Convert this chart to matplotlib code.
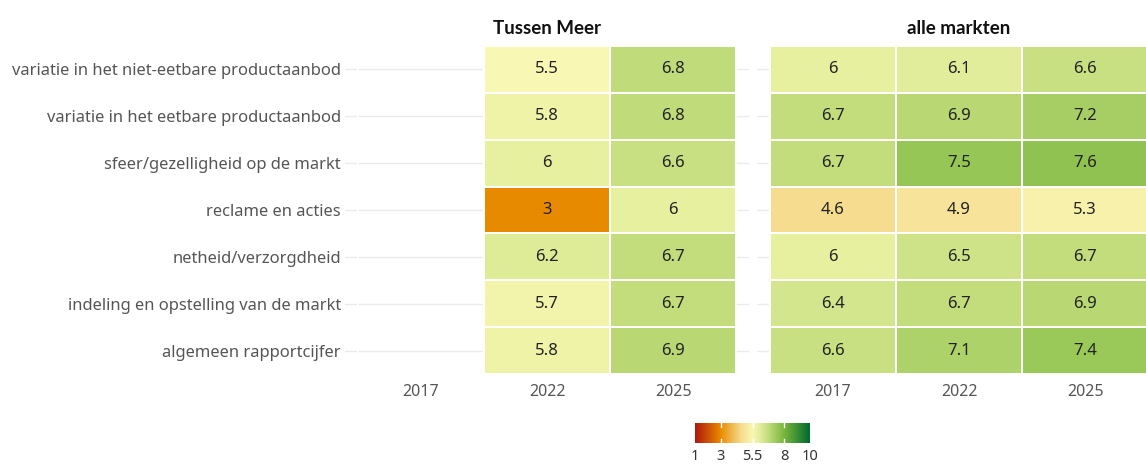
import numpy as np
import matplotlib
matplotlib.use("Agg")
import matplotlib.pyplot as plt
from matplotlib.colors import LinearSegmentedColormap, Normalize

plt.rcParams['font.family'] = ['Noto Sans', 'DejaVu Sans']

categories = ['variatie in het niet-eetbare productaanbod',
              'variatie in het eetbare productaanbod',
              'sfeer/gezelligheid op de markt',
              'reclame en acties',
              'netheid/verzorgdheid',
              'indeling en opstelling van de markt',
              'algemeen rapportcijfer']
years = ['2017', '2022', '2025']
panels = ['Tussen Meer', 'alle markten']

# values per year (rows in category order), nan = no data
tussen_2017 = [np.nan] * 7
tussen_2022 = [5.5, 5.8, 6, 3, 6.2, 5.7, 5.8]
tussen_2025 = [6.8, 6.8, 6.6, 6, 6.7, 6.7, 6.9]
alle_2017 = [6, 6.7, 6.7, 4.6, 6, 6.4, 6.6]
alle_2022 = [6.1, 6.9, 7.5, 4.9, 6.5, 6.7, 7.1]
alle_2025 = [6.6, 7.2, 7.6, 5.3, 6.7, 6.9, 7.4]

data = {
    'Tussen Meer': np.array([tussen_2017, tussen_2022, tussen_2025]).T,
    'alle markten': np.array([alle_2017, alle_2022, alle_2025]).T,
}

cb_ticks = [1, 3, 5.5, 8, 10]
vmin, vmax = 1, 10

nodes = [(1, '#B0170F'), (3, '#E98B00'), (4.6, '#F6DC8E'), (5.5, '#F9F7B4'),
         (6.0, '#E7F0A0'), (6.7, '#C4DE7E'), (8, '#78B63C'), (10, '#006A2E')]
cmap = LinearSegmentedColormap.from_list(
    'rg', [((v - vmin) / (vmax - vmin), c) for v, c in nodes])
norm = Normalize(vmin, vmax)

W, H = 1146, 466
fig = plt.figure(figsize=(W / 100, H / 100), dpi=100)

def fx(px):
    return px / W

def fy(py):
    return 1 - py / H

ax_left_px = [345, 757]
ax_w_px = 404
top_px, bot_px = 41.3, 378.7
txt = '#555555'

for i, name in enumerate(panels):
    ax = fig.add_axes([fx(ax_left_px[i]), fy(bot_px), fx(ax_w_px), (bot_px - top_px) / H])
    vals = data[name]
    n = len(categories)
    # grid lines at row centres
    for r in range(n):
        ax.axhline(r, color='#EBEBEB', lw=1, zorder=0)
    m = np.ma.masked_invalid(vals[::-1])
    ax.pcolormesh(np.arange(len(years) + 1) - 0.5, np.arange(n + 1) - 0.5, m,
                  cmap=cmap, norm=norm, edgecolors='white', linewidth=1.3, zorder=1)
    for r in range(n):
        for c in range(len(years)):
            v = vals[r, c]
            if np.isnan(v):
                continue
            ax.text(c, n - 1 - r, f'{v:g}', ha='center', va='center',
                    fontsize=12, color='#222222', zorder=3)
    ax.set_xlim(-0.6, 2.6)
    ax.set_ylim(-0.6, n - 0.4)
    ax.set_xticks(range(len(years)))
    ax.set_xticklabels(years)
    ax.tick_params(length=0, labelsize=11.5, labelcolor=txt, pad=4)
    if i == 0:
        ax.set_yticks(range(n))
        ax.set_yticklabels(categories[::-1])
        ax.tick_params(axis='y', pad=3, labelsize=11.9)
    else:
        ax.set_yticks([])
    for s in ax.spines.values():
        s.set_visible(False)
    ax.set_title(name, fontsize=13.5, fontweight='bold', color='#111111', pad=5,
                 family=['Lato', 'DejaVu Sans'])

# colorbar
cax = fig.add_axes([fx(695), fy(443), fx(115), 20 / H])
grad = np.linspace(vmin, vmax, 256).reshape(1, -1)
cax.imshow(grad, aspect='auto', cmap=cmap, norm=norm, extent=[vmin, vmax, 0, 1])
for t in cb_ticks[1:-1]:
    cax.plot([t, t], [0, 0.2], color='white', lw=1)
    cax.plot([t, t], [0.8, 1], color='white', lw=1)
cax.set_xlim(vmin, vmax)
cax.set_ylim(0, 1)
cax.set_xticks(cb_ticks)
cax.set_xticklabels([f'{t:g}' for t in cb_ticks])
cax.set_yticks([])
cax.tick_params(length=0, labelsize=10.5, labelcolor='#333333', pad=4)
for s in cax.spines.values():
    s.set_visible(False)

fig.savefig('out.png', dpi=100)
